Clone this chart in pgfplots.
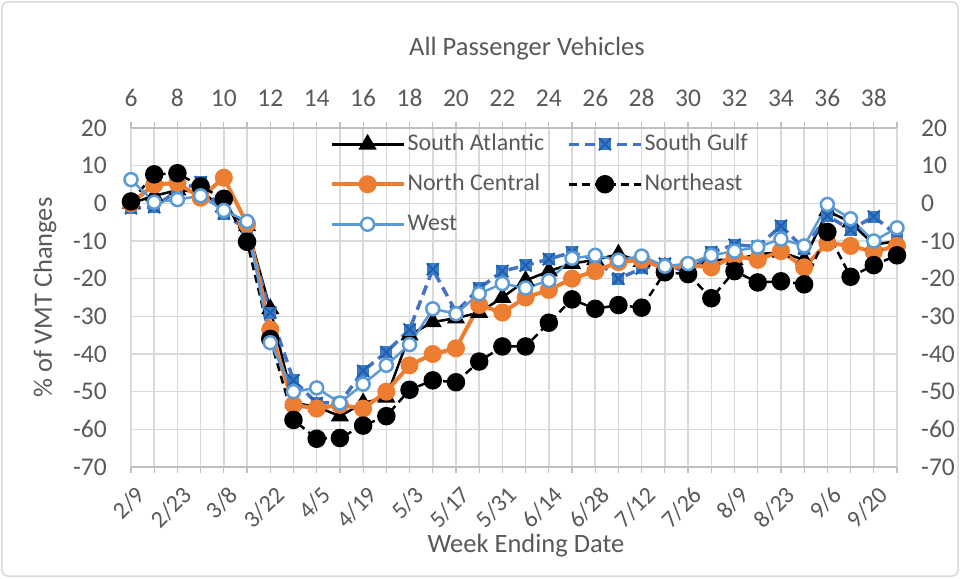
\documentclass[border=0pt]{standalone}
\usepackage{fontspec}
\setmainfont{Carlito}
\usepackage{pgfplots}
\usepackage{pgfplotstable}
\pgfplotsset{compat=1.18}
\definecolor{txt}{HTML}{595959}
\definecolor{gridc}{HTML}{D9D9D9}
\definecolor{axc}{HTML}{BFBFBF}
\definecolor{sgline}{HTML}{4472C4}
\definecolor{sgmark}{HTML}{3A7BC8}
\definecolor{sgx}{HTML}{1F5FAE}
\definecolor{nc}{HTML}{ED7D31}
\definecolor{west}{HTML}{5B9BD5}
\pgfdeclareplotmark{sqx}{%
  \pgfpathrectangle{\pgfqpoint{-\pgfplotmarksize}{-\pgfplotmarksize}}{\pgfqpoint{2\pgfplotmarksize}{2\pgfplotmarksize}}%
  \pgfusepathqfill
  \pgfpathmoveto{\pgfqpoint{-\pgfplotmarksize}{-\pgfplotmarksize}}%
  \pgfpathlineto{\pgfqpoint{\pgfplotmarksize}{\pgfplotmarksize}}%
  \pgfpathmoveto{\pgfqpoint{-\pgfplotmarksize}{\pgfplotmarksize}}%
  \pgfpathlineto{\pgfqpoint{\pgfplotmarksize}{-\pgfplotmarksize}}%
  \pgfusepathqstroke
}
\pgfplotstableread{
week sa sg nc ne w
6 0 -1.3 0 0.5 6.3
7 2 -1 5 7.7 0.3
8 3.5 3.4 5.4 8 1
9 3 5.6 1.5 4.5 2
10 -1 -2.7 6.8 1.2 -1.9
11 -6 -7 -5.5 -10.2 -4.8
12 -28 -29 -33.5 -36 -37
13 -53 -47 -53.5 -57.5 -50
14 -54 -53 -54.5 -62.5 -49
15 -56.5 -53 -53.5 -62.3 -53
16 -53 -44.5 -54.5 -59 -48
17 -51.5 -39.5 -50 -56.5 -43
18 -35 -33.5 -43 -49.5 -37.5
19 -31.5 -17.5 -40 -47 -28
20 -30.5 -28.8 -38.5 -47.5 -29.3
21 -29 -22.6 -27 -42 -24
22 -25 -18 -29 -38 -21.3
23 -20.5 -16.5 -25 -38 -22.5
24 -18 -14.8 -23 -31.7 -20.5
25 -16 -13 -20 -25.5 -14.6
26 -15 -15 -18 -28 -13.8
27 -13.5 -20 -15.6 -27 -15.1
28 -15.5 -17.3 -15 -27.7 -14
29 -17 -16 -17.3 -18.3 -16.7
30 -17 -18.5 -16.4 -18.8 -16
31 -15 -13 -17 -25.2 -13.8
32 -15 -11 -14 -18 -12.7
33 -13.5 -11.5 -15 -21 -11.6
34 -13 -6 -12.7 -20.7 -9.5
35 -15 -12 -17 -21.5 -11.3
36 -2 -3.3 -10.5 -7.6 -0.3
37 -5 -7 -11.3 -19.5 -4.1
38 -11 -3.5 -12.9 -16.4 -10
39 -10 -8.5 -11.3 -13.8 -6.5
}\data
\newcommand{\fs}{\fontsize{24}{28}\selectfont}
\newcommand{\fst}{\fontsize{25.5}{30}\selectfont}
\newcommand{\fsl}{\fontsize{26.5}{31}\selectfont}
\begin{document}
\begin{tikzpicture}
\pgfplotsset{
  common/.style={
    at={(0,0)}, anchor=south west,
    scale only axis, width=766pt, height=339pt,
    xmin=6, xmax=39, ymin=-70, ymax=20,
    ytick={-70,-60,...,20},
    xtick={6,8,...,38}, minor xtick={7,9,...,39},
    tick align=outside, major tick length=6pt, minor tick length=6pt,
    x tick style={draw=axc, line width=1.2pt},
    y tick style={draw=none},
    ticklabel style={font=\fst, text=txt},
    /pgf/number format/assume math mode=true,
    y axis line style={draw=none},
    x axis line style={draw=axc, line width=1.5pt},
  }
}
\begin{axis}[common, name=ax,
  axis x line*=bottom, axis y line*=left,
  xticklabels={2/9,2/23,3/8,3/22,4/5,4/19,5/3,5/17,5/31,6/14,6/28,7/12,7/26,8/9,8/23,9/6,9/20},
  xticklabel style={font=\fs, xshift=10pt, yshift=-18pt, rotate=45, anchor=east, inner sep=0pt},
  yticklabel style={anchor=east, inner sep=0pt, xshift=-18pt},
  xmajorgrids, xminorgrids, ymajorgrids,
  major grid style={draw=gridc, line width=1.5pt},
  minor grid style={draw=gridc, line width=1.5pt},
  xlabel={Week Ending Date}, ylabel={\% of VMT Changes},
  label style={font=\fsl, text=txt},
  xlabel style={at={(axis description cs:0.5,0)}, anchor=center, yshift=-79pt, xshift=12pt},
  ylabel style={at={(axis description cs:0,0.5)}, anchor=center, yshift=86pt},
  legend columns=2,
  legend cell align=left,
  legend style={draw=none, fill=none, inner sep=0pt, at={(axis description cs:0.259,0.991)}, anchor=north west,
    font=\fs, text=txt, row sep=14pt,
    nodes={text height=17pt, text depth=5pt, inner sep=2pt},
    /tikz/every even column/.append style={column sep=21pt}},
  legend image code/.code={\draw[mark repeat=2,mark phase=2,#1] plot coordinates {(0pt,0pt) (36pt,0pt) (72pt,0pt)};},
]
\addplot[black, line width=2.5pt, mark=triangle*, mark size=8pt, mark options={solid, fill=black}] table[x=week,y=sa]{\data};
\addlegendentry{South Atlantic}
\addplot[sgline, line width=3.5pt, dash pattern=on 10pt off 6pt, mark=sqx, mark size=6pt, mark options={solid, fill=sgmark, draw=sgx, line width=2pt}] table[x=week,y=sg]{\data};
\addlegendentry{South Gulf}
\addplot[nc, line width=4pt, mark=*, mark size=7pt, mark options={solid, fill=nc, draw=nc}] table[x=week,y=nc]{\data};
\addlegendentry{North Central}
\addplot[black, line width=2.5pt, dash pattern=on 8pt off 5pt, mark=*, mark size=8pt, mark options={solid, fill=black}] table[x=week,y=ne]{\data};
\addlegendentry{Northeast}
\addplot[west, line width=2.5pt, mark=*, mark size=6.5pt, mark options={solid, fill=white, draw=west, line width=2.5pt}] table[x=week,y=w]{\data};
\addlegendentry{West}
\end{axis}
\begin{axis}[common,
  axis x line*=top, axis y line*=right,
  xticklabel style={anchor=center, inner sep=0pt, yshift=24pt},
  yticklabel style={anchor=west, inner sep=0pt, xshift=18pt},
  title={All Passenger Vehicles},
  title style={font=\fsl, text=txt, at={(axis description cs:0.5,1)}, anchor=center, yshift=73pt, xshift=13pt},
]
\end{axis}
\pgfresetboundingbox
\draw[gridc, line width=1.5pt, rounded corners=6pt] ([shift={(-129pt,-109pt)}]ax.south west) rectangle ([shift={(61pt,126pt)}]ax.north east);
\path[use as bounding box] ([shift={(-131pt,-111pt)}]ax.south west) rectangle ([shift={(63pt,128pt)}]ax.north east);
\end{tikzpicture}
\end{document}
